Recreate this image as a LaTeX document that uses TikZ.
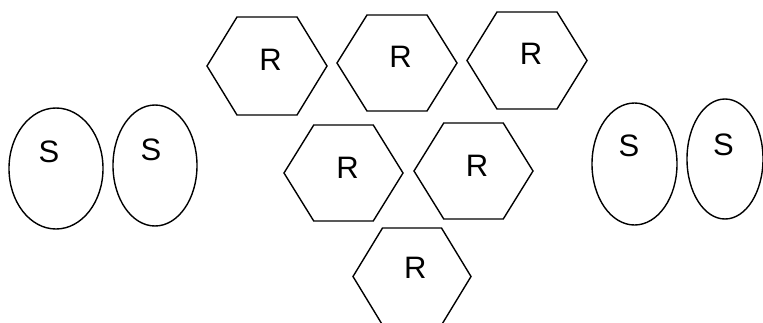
\documentclass[tikz,border=0pt]{standalone}
\usepackage{fontspec}
\setmainfont{Liberation Sans}
\begin{document}
\begin{tikzpicture}[x=1pt,y=-1pt,
  shapeline/.style={draw=black,line width=1.4pt,line join=miter},
  lbl/.style={inner sep=0pt,font=\fontsize{31}{36}\selectfont}]
\useasboundingbox (0,0) rectangle (763,322);
\clip (0,0) rectangle (763,322);
% hexagons: center x, center y, half-width, half-height
\foreach \cx/\cy/\hw/\hh in {267/66/60/49, 397/63/60/48, 527/60.5/60/48.5,
                             343.5/173/59.5/48, 473.5/171/59.5/48, 412/276.5/59/48.5}{
  \draw[shapeline] (\cx-\hw,\cy) -- (\cx-\hw/2,\cy-\hh) -- (\cx+\hw/2,\cy-\hh)
     -- (\cx+\hw,\cy) -- (\cx+\hw/2,\cy+\hh) -- (\cx-\hw/2,\cy+\hh) -- cycle;
}
% ellipses
\draw[shapeline] (56,168.5) ellipse [x radius=47, y radius=60.5];
\draw[shapeline] (155,165.5) ellipse [x radius=42, y radius=60.5];
\draw[shapeline] (634.5,164) ellipse [x radius=42.5, y radius=61];
\draw[shapeline] (725,159) ellipse [x radius=38, y radius=60];
% labels
\node[lbl] (r1) at (270.5,59.5) {R};
\node[lbl] (r2) at (400.5,56.5) {R};
\node[lbl] (r3) at (531,53.7) {R};
\node[lbl] (r4) at (347.5,167.5) {R};
\node[lbl] (r5) at (477,165.5) {R};
\node[lbl] (r6) at (415.3,268) {R};
\node[lbl] (s1) at (49,151.7) {S};
\node[lbl] (s2) at (151,150) {S};
\node[lbl] (s3) at (629,146.3) {S};
\node[lbl] (s4) at (723.5,144.5) {S};
\end{tikzpicture}
\end{document}
